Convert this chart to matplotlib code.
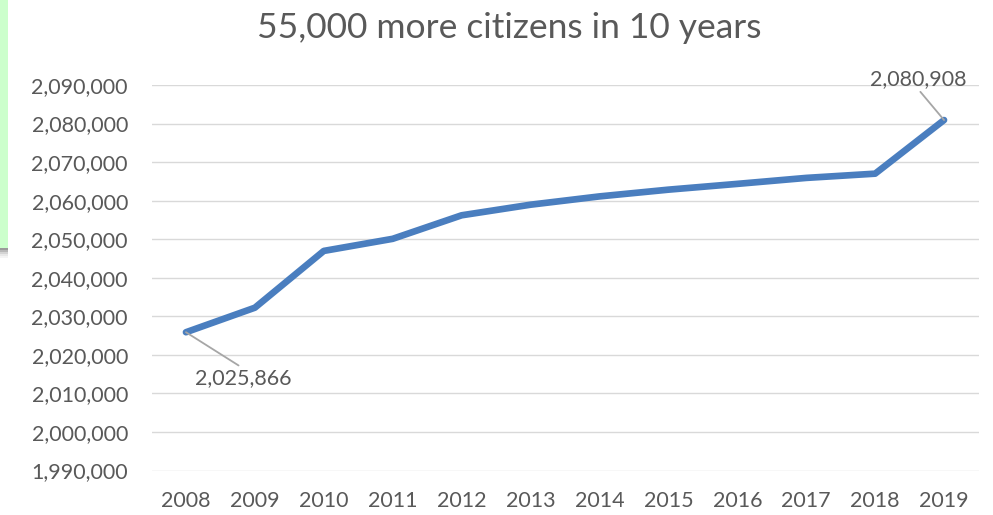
import matplotlib
matplotlib.use("Agg")
import matplotlib.pyplot as plt
from matplotlib.patches import Rectangle
from matplotlib.ticker import FuncFormatter, MultipleLocator

years = ["2008", "2009", "2010", "2011", "2012", "2013", "2014", "2015", "2016", "2017", "2018", "2019"]
population = [2025866, 2032230, 2046960, 2050100, 2056200, 2058950, 2061100, 2062850, 2064350, 2065900, 2067000, 2080908]
title = "55,000 more citizens in 10 years"
y_min, y_max, y_step = 1990000, 2090000, 10000

plt.rcParams['font.family'] = ['Lato', 'DejaVu Sans']
txt = '#595959'

fig = plt.figure(figsize=(9.93, 5.15), dpi=100)
fig.patch.set_facecolor('white')

# light green strip of the screenshot on the left
fig.patches.append(Rectangle((0, 1 - 248 / 515), 8 / 993, 248 / 515, transform=fig.transFigure,
                             facecolor='#CCFFCC', edgecolor='none', zorder=0))
for i, c in enumerate(['#9a9a9a', '#b8b8b8', '#d4d4d4', '#e8e8e8', '#f4f4f4']):
    fig.patches.append(Rectangle((0, 1 - (250 + 2 * i) / 515), 8 / 993, 2 / 515, transform=fig.transFigure,
                                 facecolor=c, edgecolor='none', zorder=0))

ax = fig.add_axes([151.5 / 993, 44.5 / 515, 827 / 993, 385.5 / 515])
x = list(range(len(years)))
ax.plot(x, population, color='#4A7EBF', linewidth=4.8, solid_joinstyle='round', solid_capstyle='round', zorder=3)

ax.set_xlim(-0.5, len(years) - 0.5)
ax.set_ylim(y_min, y_max)
ax.yaxis.set_major_locator(MultipleLocator(y_step))
ax.yaxis.set_major_formatter(FuncFormatter(lambda v, p: f"{int(round(v)):,}"))
ax.set_xticks(x)
ax.set_xticklabels(years)
ax.grid(axis='y', color='#D9D9D9', linewidth=1.0)
ax.set_axisbelow(True)
for s in ax.spines.values():
    s.set_visible(False)
ax.tick_params(axis='both', length=0, colors=txt, labelsize=15.5)
ax.tick_params(axis='y', pad=17)
ax.tick_params(axis='x', pad=15)

fig.text(509 / 993, 1 - 28 / 515, title, ha='center', va='center', fontsize=25.5, color=txt)

# data labels with leader lines
ax.annotate(f"{population[0]:,}", xy=(x[0], population[0]), xytext=(57, -46), textcoords='offset pixels',
            ha='center', va='center', fontsize=15.5, color=txt,
            arrowprops=dict(arrowstyle='-', color='#A6A6A6', lw=1.3, shrinkA=0, shrinkB=0,
                            relpos=(0.5, 1.0)), zorder=4)
ax.annotate(f"{population[-1]:,}", xy=(x[-1], population[-1]), xytext=(-26, 41), textcoords='offset pixels',
            ha='center', va='center', fontsize=15.5, color=txt,
            arrowprops=dict(arrowstyle='-', color='#A6A6A6', lw=1.3, shrinkA=0, shrinkB=0,
                            relpos=(0.5, 0.0)), zorder=4)

fig.savefig('out.png', dpi=100)
